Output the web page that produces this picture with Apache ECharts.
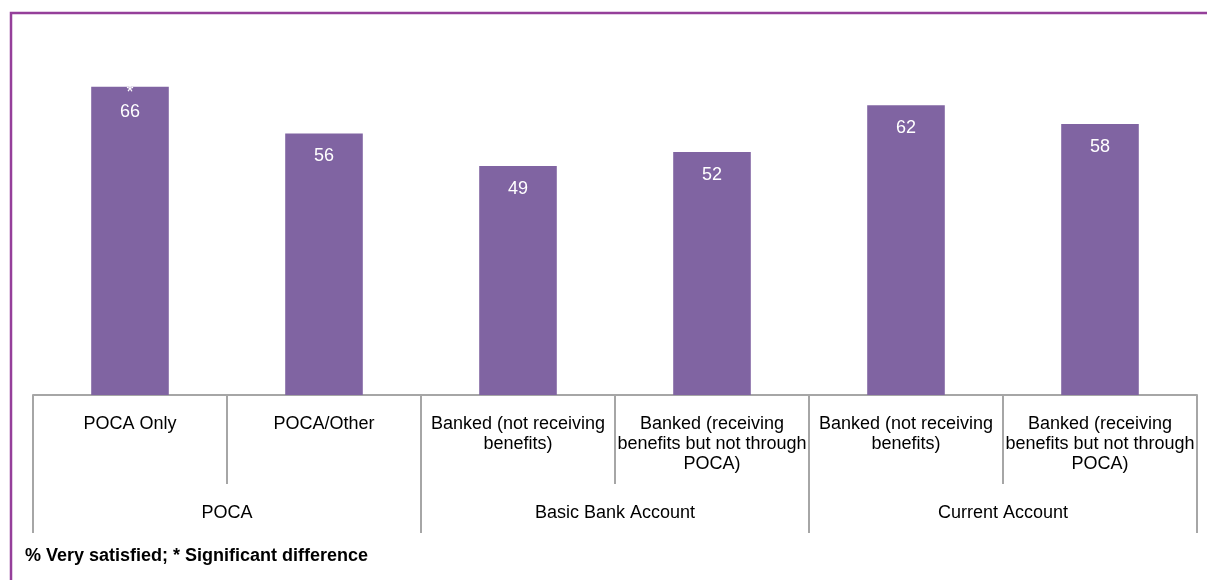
<!DOCTYPE html>
<html>
<head>
<meta charset="utf-8">
<script src="https://cdn.jsdelivr.net/npm/echarts@6/dist/echarts.min.js"></script>
<style>
  html, body { margin: 0; padding: 0; background: #fff; }
  #chart { width: 1207px; height: 580px; }
</style>
</head>
<body>
<div id="chart"></div>
<script>
// account types (lower level of the axis)
const categories = [
  'POCA Only',
  'POCA/Other',
  'Banked (not receiving\nbenefits)',
  'Banked (receiving\nbenefits but not through\nPOCA)',
  'Banked (not receiving\nbenefits)',
  'Banked (receiving\nbenefits but not through\nPOCA)'
]
// upper level of the axis
const groups = ['POCA', 'Basic Bank Account', 'Current Account']
// % very satisfied
const values = [66, 56, 49, 52, 62, 58]
// significant difference flags
const sigFlags = ['*', '', '', '', '', '']

const font = '"Liberation Sans", Arial, sans-serif'
const axisGrey = '#a6a6a6'

const chart = echarts.init(document.getElementById('chart'))

const barData = values.map((v, i) => {
  const item = { value: v }
  if (sigFlags[i]) {
    item.label = {
      formatter: sigFlags[i] + '\n' + v,
      lineHeight: 19,
      position: ['50%', 15.5]
    }
  }
  return item
})

chart.setOption({
  animation: false,
  grid: { left: 33, right: 10, top: 68, bottom: 185, outerBoundsMode: 'none' },
  xAxis: [
    {
      type: 'category',
      data: categories,
      axisLine: { lineStyle: { color: axisGrey, width: 2 } },
      axisTick: { show: true, interval: 0, length: 89, lineStyle: { color: axisGrey, width: 2 } },
      axisLabel: {
        interval: 0,
        margin: 19,
        color: '#000',
        fontFamily: font,
        fontSize: 18,
        lineHeight: 20
      }
    },
    {
      type: 'category',
      data: groups,
      position: 'bottom',
      axisLine: { show: false },
      axisTick: { show: true, interval: 0, length: 138, lineStyle: { color: axisGrey, width: 2 } },
      axisLabel: {
        interval: 0,
        margin: 108,
        color: '#000',
        fontFamily: font,
        fontSize: 18,
        lineHeight: 20
      }
    }
  ],
  yAxis: { type: 'value', min: 0, max: 70, show: false, splitLine: { show: false } },
  series: [{
    type: 'bar',
    xAxisIndex: 0,
    data: barData,
    barWidth: '40%',
    itemStyle: { color: '#8064a2' },
    label: {
      show: true,
      position: ['50%', 23],
      align: 'center',
      verticalAlign: 'middle',
      color: '#fff',
      fontFamily: font,
      fontSize: 18
    }
  }],
  graphic: [
    {
      type: 'rect',
      shape: { x: 11, y: 13, width: 1400, height: 800 },
      style: { fill: 'none', stroke: '#953f9a', lineWidth: 2.5 },
      silent: true
    },
    {
      type: 'text',
      left: 25,
      top: 547,
      style: {
        text: '% Very satisfied; * Significant difference',
        fill: '#000',
        font: 'bold 18px ' + font
      }
    }
  ]
})
</script>
</body>
</html>
